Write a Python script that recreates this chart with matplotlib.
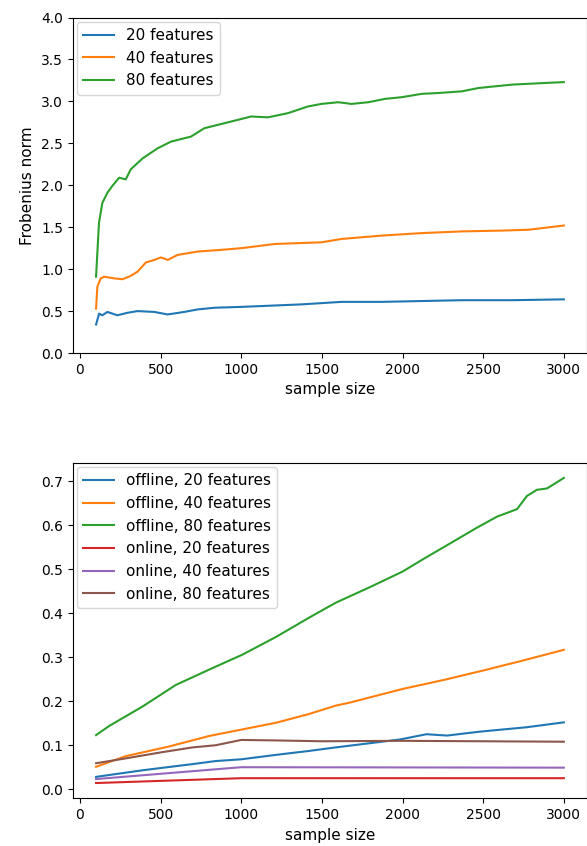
import matplotlib
matplotlib.use('Agg')
import matplotlib.pyplot as plt

# Frobenius norm vs sample size
x_f20 = [100, 119, 139, 170, 232, 295, 357, 461, 544, 647, 730, 834, 1000,
         1123, 1373, 1622, 1870, 2119, 2368, 2679, 3000]
y_f20 = [0.34, 0.47, 0.45, 0.49, 0.45, 0.48, 0.50, 0.49, 0.46, 0.49, 0.52,
         0.54, 0.55, 0.56, 0.58, 0.61, 0.61, 0.62, 0.63, 0.63, 0.64]

x_f40 = [100, 108, 129, 150, 212, 264, 315, 357, 409, 461, 502, 544, 606,
         730, 875, 1000, 1207, 1497, 1622, 1870, 2119, 2368, 2617, 2782, 3000]
y_f40 = [0.53, 0.79, 0.89, 0.91, 0.89, 0.88, 0.92, 0.97, 1.08, 1.11, 1.14,
         1.11, 1.17, 1.21, 1.23, 1.25, 1.30, 1.32, 1.36, 1.40, 1.43, 1.45,
         1.46, 1.47, 1.52]

x_f80 = [100, 118, 139, 170, 200, 243, 284, 315, 388, 481, 564, 688, 771,
         875, 979, 1062, 1166, 1290, 1414, 1497, 1601, 1684, 1788, 1891, 1995,
         2119, 2223, 2368, 2472, 2679, 2887, 3000]
y_f80 = [0.91, 1.55, 1.79, 1.91, 1.99, 2.09, 2.07, 2.19, 2.32, 2.44, 2.52,
         2.58, 2.68, 2.73, 2.78, 2.82, 2.81, 2.86, 2.94, 2.97, 2.99, 2.97,
         2.99, 3.03, 3.05, 3.09, 3.10, 3.12, 3.16, 3.20, 3.22, 3.23]

# offline / online comparison
x_off20 = [100, 388, 697, 842, 1000, 1214, 1420, 1585, 1983, 2148, 2276,
           2483, 2772, 2916, 3000]
y_off20 = [0.028, 0.043, 0.057, 0.064, 0.068, 0.078, 0.087, 0.095, 0.113,
           0.125, 0.122, 0.131, 0.141, 0.148, 0.152]

x_off40 = [100, 283, 551, 801, 1007, 1214, 1420, 1585, 1674, 2000, 2262,
           2500, 2750, 3000]
y_off40 = [0.051, 0.075, 0.097, 0.121, 0.136, 0.151, 0.171, 0.190, 0.197,
           0.228, 0.249, 0.270, 0.293, 0.317]

x_off80 = [100, 182, 388, 594, 801, 1007, 1214, 1420, 1585, 1800, 2000,
           2131, 2276, 2462, 2586, 2710, 2771, 2833, 2895, 3000]
y_off80 = [0.123, 0.144, 0.188, 0.237, 0.272, 0.306, 0.346, 0.390, 0.424,
           0.460, 0.495, 0.524, 0.555, 0.595, 0.620, 0.637, 0.667, 0.681,
           0.684, 0.708]

x_on20 = [100, 1000, 3000]
y_on20 = [0.014, 0.025, 0.025]

x_on40 = [100, 1000, 3000]
y_on40 = [0.023, 0.050, 0.049]

x_on80 = [100, 283, 490, 697, 842, 1000, 1200, 1500, 2000, 2500, 3000]
y_on80 = [0.059, 0.070, 0.083, 0.095, 0.100, 0.112, 0.111, 0.109, 0.110,
          0.109, 0.108]

ticks_x = [0, 500, 1000, 1500, 2000, 2500, 3000]

fig = plt.figure(figsize=(5.87, 8.46), dpi=100)

# wykres gorny
ax1 = fig.add_axes([0.1238, 0.5827, 0.8766, 0.3966])
ax1.plot(x_f20, y_f20, label='20 features')
ax1.plot(x_f40, y_f40, label='40 features')
ax1.plot(x_f80, y_f80, label='80 features')
ax1.set_ylim(0, 4)
ax1.set_xticks(ticks_x)
ax1.set_xlabel('sample size', fontsize=11)
ax1.set_ylabel('Frobenius norm', fontsize=11)
ax1.legend(loc='upper left', fontsize=11, borderaxespad=0.3)

# wykres dolny
ax2 = fig.add_axes([0.1238, 0.0564, 0.8766, 0.3967])
ax2.plot(x_off20, y_off20, label='offline, 20 features')
ax2.plot(x_off40, y_off40, label='offline, 40 features')
ax2.plot(x_off80, y_off80, label='offline, 80 features')
ax2.plot(x_on20, y_on20, label='online, 20 features')
ax2.plot(x_on40, y_on40, label='online, 40 features')
ax2.plot(x_on80, y_on80, label='online, 80 features')
ax2.set_xticks(ticks_x)
ax2.set_xlabel('sample size', fontsize=11)
ax2.legend(loc='upper left', fontsize=11, borderaxespad=0.3)

fig.savefig('out.png', dpi=100)
